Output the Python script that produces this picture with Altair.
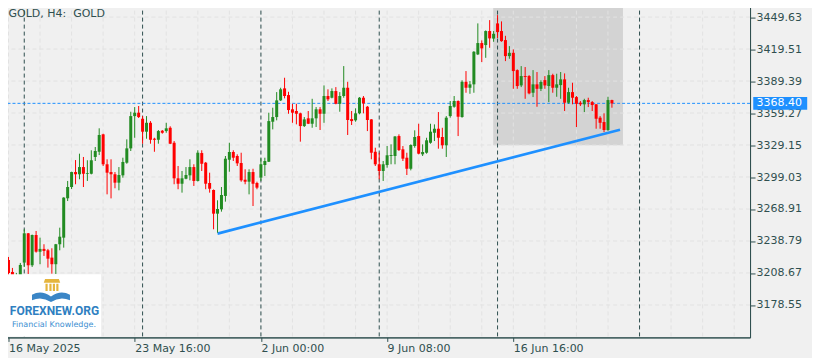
import altair as alt
import pandas as pd

# ---------------- data ----------------
opens = [3220.9, 3209.6, 3196.4, 3204.9, 3218.4, 3246.0, 3215.9, 3244.4, 3228.7, 3231.3,
         3230.0, 3223.1, 3216.9, 3235.7, 3241.9, 3279.0, 3289.6, 3303.7, 3301.6, 3308.4,
         3302.1, 3302.1, 3317.9, 3322.8, 3339.2, 3311.0, 3303.7, 3301.6, 3293.7, 3300.6,
         3312.5, 3326.0, 3356.4, 3359.6, 3353.9, 3341.7, 3350.1, 3335.1, 3334.1, 3342.6,
         3342.3, 3345.4, 3331.3, 3297.8, 3292.7, 3297.4, 3300.6, 3308.4, 3295.3, 3321.6,
         3312.5, 3293.4, 3286.8, 3264.5, 3268.6, 3281.2, 3315.3, 3322.6, 3318.8, 3312.2,
         3296.5, 3294.6, 3303.7, 3293.4, 3298.4, 3310.3, 3313.4, 3351.1, 3355.5, 3371.2,
         3382.5, 3376.2, 3362.8, 3361.2, 3359.0, 3347.0, 3354.3, 3349.2, 3354.3, 3362.8,
         3358.6, 3375.3, 3373.7, 3380.0, 3368.0, 3375.3, 3383.1, 3353.6, 3352.4, 3359.0,
         3373.7, 3365.2, 3353.3, 3322.8, 3311.0, 3304.7, 3310.3, 3318.8, 3318.8, 3337.6,
         3325.1, 3317.2, 3306.8, 3328.2, 3337.6, 3320.4, 3321.9, 3331.3, 3340.7, 3344.5,
         3336.7, 3328.9, 3356.4, 3365.2, 3370.6, 3355.5, 3388.7, 3383.1, 3386.3, 3414.5,
         3425.2, 3423.3, 3436.5, 3429.4, 3443.7, 3436.5, 3428.0, 3412.9, 3416.0, 3399.7,
         3385.3, 3394.1, 3394.1, 3378.4, 3386.3, 3382.1, 3390.3, 3384.7, 3395.0, 3383.1,
         3385.6, 3391.0, 3369.0, 3379.0, 3374.3, 3369.0, 3367.5, 3371.5, 3369.6, 3367.5,
         3354.9, 3350.8, 3343.3, 3371.5]
highs = [3223.7, 3213.4, 3208.7, 3218.1, 3249.8, 3246.3, 3244.8, 3248.2, 3241.9, 3235.7,
         3231.3, 3231.9, 3236.0, 3251.3, 3280.0, 3295.3, 3304.0, 3315.0, 3321.0, 3317.9,
         3314.8, 3324.2, 3327.3, 3344.9, 3339.8, 3315.7, 3315.7, 3303.7, 3308.4, 3317.2,
         3334.5, 3360.5, 3364.9, 3365.9, 3356.4, 3356.4, 3351.7, 3336.0, 3343.3, 3343.3,
         3350.1, 3346.8, 3332.9, 3309.4, 3304.7, 3308.4, 3315.7, 3311.0, 3324.2, 3324.2,
         3313.2, 3303.1, 3287.3, 3277.1, 3289.6, 3318.8, 3331.3, 3324.2, 3320.4, 3321.9,
         3306.3, 3306.3, 3306.8, 3294.6, 3316.6, 3317.2, 3359.6, 3364.3, 3379.0, 3383.1,
         3392.5, 3379.3, 3368.0, 3368.0, 3359.6, 3355.5, 3361.2, 3372.7, 3364.9, 3364.9,
         3385.3, 3381.6, 3382.5, 3383.7, 3379.0, 3403.5, 3388.7, 3361.2, 3363.7, 3374.3,
         3375.3, 3365.9, 3353.6, 3326.6, 3321.9, 3314.1, 3328.2, 3329.8, 3337.6, 3339.2,
         3328.2, 3321.9, 3329.8, 3343.0, 3349.2, 3329.8, 3336.0, 3349.2, 3348.6, 3360.2,
         3345.4, 3356.4, 3370.6, 3375.3, 3371.2, 3390.1, 3398.8, 3389.4, 3417.6, 3443.7,
         3427.7, 3437.1, 3446.8, 3436.5, 3451.5, 3445.6, 3432.0, 3422.3, 3419.2, 3400.4,
         3403.5, 3402.6, 3395.0, 3399.7, 3397.9, 3390.1, 3394.1, 3399.7, 3396.3, 3396.3,
         3397.9, 3396.6, 3383.1, 3387.8, 3375.3, 3370.6, 3372.7, 3373.7, 3370.6, 3367.7,
         3356.4, 3359.0, 3374.6, 3371.8]
lows = [3201.1, 3191.7, 3189.8, 3199.3, 3214.3, 3207.7, 3214.3, 3227.8, 3216.9, 3224.7,
        3213.7, 3208.0, 3207.7, 3230.0, 3232.5, 3276.4, 3287.7, 3292.2, 3296.9, 3289.6,
        3295.3, 3301.5, 3314.1, 3319.7, 3309.4, 3282.7, 3278.9, 3288.4, 3286.5, 3298.4,
        3311.5, 3323.5, 3336.0, 3354.6, 3330.4, 3335.1, 3330.4, 3322.8, 3330.4, 3339.8,
        3340.7, 3330.0, 3292.2, 3287.5, 3284.3, 3296.9, 3295.9, 3290.6, 3294.8, 3304.7,
        3287.5, 3284.3, 3249.8, 3246.6, 3266.4, 3275.8, 3304.0, 3314.1, 3309.4, 3294.6,
        3292.2, 3282.7, 3271.7, 3287.5, 3295.3, 3300.0, 3313.2, 3343.9, 3352.4, 3370.6,
        3373.1, 3358.6, 3350.1, 3348.6, 3332.3, 3346.1, 3348.9, 3345.4, 3346.1, 3343.3,
        3350.1, 3370.6, 3373.1, 3367.5, 3360.5, 3373.7, 3338.6, 3348.0, 3351.1, 3358.1,
        3359.0, 3342.3, 3315.7, 3309.4, 3296.9, 3295.3, 3307.8, 3311.0, 3311.0, 3323.5,
        3314.1, 3300.9, 3305.3, 3326.6, 3320.4, 3318.8, 3321.0, 3330.4, 3332.9, 3325.7,
        3325.7, 3317.9, 3354.9, 3364.3, 3337.6, 3354.9, 3378.4, 3377.4, 3378.4, 3413.9,
        3407.3, 3411.3, 3420.7, 3426.4, 3429.9, 3426.4, 3408.2, 3410.4, 3382.1, 3382.1,
        3383.7, 3372.7, 3376.9, 3374.3, 3365.2, 3380.0, 3382.1, 3369.6, 3378.4, 3374.6,
        3372.7, 3361.2, 3368.0, 3367.5, 3346.1, 3365.9, 3360.2, 3364.9, 3361.2, 3344.5,
        3344.5, 3341.4, 3342.3, 3364.3]
closes = [3208.7, 3199.3, 3204.9, 3216.2, 3246.0, 3215.9, 3244.4, 3228.7, 3231.3, 3229.4,
          3222.1, 3216.9, 3235.7, 3242.8, 3279.6, 3289.6, 3303.7, 3301.6, 3308.4, 3302.1,
          3302.8, 3314.8, 3323.5, 3338.6, 3311.0, 3303.1, 3301.6, 3293.7, 3300.9, 3313.2,
          3326.0, 3356.4, 3359.6, 3355.5, 3341.7, 3350.1, 3334.1, 3334.1, 3342.3, 3340.7,
          3344.9, 3330.4, 3297.8, 3292.7, 3297.8, 3300.9, 3308.4, 3295.3, 3321.9, 3311.5,
          3292.7, 3288.0, 3264.5, 3268.9, 3282.1, 3316.3, 3322.6, 3317.2, 3311.9, 3295.9,
          3294.6, 3303.7, 3292.7, 3289.0, 3311.0, 3314.1, 3351.7, 3355.5, 3371.2, 3381.6,
          3375.3, 3362.1, 3359.6, 3358.6, 3347.0, 3353.3, 3349.2, 3354.3, 3362.8, 3358.6,
          3375.3, 3372.2, 3380.0, 3368.0, 3375.3, 3383.1, 3352.7, 3351.7, 3359.0, 3373.7,
          3368.4, 3352.7, 3321.9, 3311.0, 3304.7, 3311.0, 3319.5, 3319.7, 3337.2, 3324.4,
          3316.3, 3306.8, 3329.2, 3336.7, 3321.0, 3322.6, 3333.6, 3341.7, 3344.5, 3336.0,
          3328.9, 3354.9, 3365.9, 3370.6, 3355.8, 3388.7, 3383.1, 3386.3, 3417.0, 3425.2,
          3420.2, 3436.5, 3429.6, 3433.9, 3435.5, 3427.0, 3412.9, 3416.0, 3398.8, 3384.7,
          3394.1, 3393.2, 3377.8, 3386.3, 3382.1, 3388.5, 3385.3, 3395.0, 3383.1, 3386.3,
          3391.0, 3369.0, 3379.0, 3373.7, 3368.0, 3367.5, 3371.5, 3369.6, 3366.8, 3353.9,
          3350.1, 3343.3, 3371.5, 3368.4]

price_ticks = [3449.63, 3419.51, 3389.39, 3359.27, 3329.15,
               3299.03, 3268.91, 3238.79, 3208.67, 3178.55]
time_tick_idx = [0, 32, 64, 96, 128]
time_tick_labels = ["16 May 2025", "23 May 16:00", "2 Jun 00:00", "9 Jun 08:00", "16 Jun 16:00"]
week_sep_idx = [4, 34, 64, 94, 124, 160]
current_price = [3368.40]
trend_idx = [53.0, 155.05]
trend_price = [3245.7, 3343.6]
box_idx = [122.9, 155.8]
box_price = [3328.9, 3458.4]
chart_title = "GOLD, H4:\u00a0 GOLD"
logo_name = "FOREXNEW.ORG"
logo_tag = "Financial Knowledge."

# ---------------- layout / style ----------------
W, H = 748, 334
N_SLOTS = 187
DARK = "#2f4f4f"
GRID = "#e2e2e2"
BLUE = "#1e90ff"
FONT = "DejaVu Sans"

xscale = alt.Scale(domain=[-0.25, 186.75], nice=False, zero=False)
yscale = alt.Scale(domain=[3147.96, 3462.34], nice=False, zero=False)

label_expr = ""
for k, (ix, lab) in enumerate(zip(time_tick_idx, time_tick_labels)):
    shown = ("\u2002" + lab) if k == 0 else lab
    label_expr += f"datum.value == {ix} ? '{shown}' : "
label_expr += "''"

xaxis = alt.Axis(values=time_tick_idx, labelExpr=label_expr, title=None, grid=False,
                 tickSize=4, tickColor=DARK, domainColor=DARK, labelColor=DARK,
                 labelFont=FONT, labelFontSize=11, labelAlign="left", labelBaseline="top",
                 labelPadding=1.5, labelFlush=False, labelOverlap=False)
yaxis = alt.Axis(orient="right", values=price_ticks, format=".2f", title=None, grid=False,
                 tickSize=5, tickColor=DARK, domainColor=DARK, labelColor=DARK,
                 labelFont=FONT, labelFontSize=11, labelPadding=1,
                 labelFlush=False, labelOverlap=False)


def X(f):
    return alt.X(f, type="quantitative", scale=xscale, axis=xaxis)


def Y(f):
    return alt.Y(f, type="quantitative", scale=yscale, axis=yaxis)


candles = pd.DataFrame({"i": list(range(len(opens))), "open": opens, "high": highs,
                        "low": lows, "close": closes})
candles["dir"] = ["up" if c >= o else "down" for o, c in zip(opens, closes)]
color = alt.Color("dir:N", scale=alt.Scale(domain=["up", "down"], range=["#228b22", "#ff0000"]),
                  legend=None)

box = alt.Chart(pd.DataFrame({"x0": [box_idx[0]], "x1": [box_idx[1]],
                              "y0": [box_price[0]], "y1": [box_price[1]]})).mark_rect(
    color="#d3d3d3").encode(x=X("x0"), x2="x1", y=Y("y0"), y2="y1")

hgrid = alt.Chart(pd.DataFrame({"p": price_ticks})).mark_rule(
    color=GRID, strokeDash=[4, 3], strokeWidth=1).encode(y=Y("p"))
vgrid = alt.Chart(pd.DataFrame({"g": list(range(0, N_SLOTS, 8))})).mark_rule(
    color=GRID, strokeDash=[4, 3], strokeWidth=1).encode(x=X("g"))

seps = alt.Chart(pd.DataFrame({"s": week_sep_idx})).mark_rule(
    color=DARK, strokeDash=[4, 3], strokeWidth=1).encode(x=X("s"))

pline = alt.Chart(pd.DataFrame({"p": current_price})).mark_rule(
    color=BLUE, strokeDash=[3, 2], strokeWidth=1).encode(y=Y("p"))

trend = alt.Chart(pd.DataFrame({"i": trend_idx, "p": trend_price})).mark_line(
    color=BLUE, strokeWidth=2.6).encode(x=X("i"), y=Y("p"))

wicks = alt.Chart(candles).mark_rule(strokeWidth=1).encode(
    x=X("i"), y=Y("low"), y2="high", color=color)
bodies = alt.Chart(candles).mark_bar(size=3).encode(
    x=X("i"), y=Y("open"), y2="close", color=color)

title = alt.Chart(pd.DataFrame({"t": [chart_title]})).mark_text(
    align="left", baseline="alphabetic", font=FONT, fontSize=11, color=DARK).encode(
    x=alt.value(6), y=alt.value(13.8), text="t:N")

one = pd.DataFrame({"a": [0]})
logo_bg = alt.Chart(one).mark_rect(color="white").encode(
    x=alt.value(1.8), x2=alt.value(98.5), y=alt.value(270.8), y2=alt.value(333))
temple_path = ("M-0.95,-0.3L-0.8,-0.75H0.8L0.95,-0.3Z "
               "M-0.75,-0.2H-0.5V0.65H-0.75Z M-0.3,-0.2H-0.05V0.65H-0.3Z "
               "M0.1,-0.2H0.35V0.65H0.1Z M0.5,-0.2H0.75V0.65H0.5Z")
book_path = ("M-1,-0.12 Q-0.5,-0.4 0,-0.02 Q0.5,-0.4 1,-0.12 L1,0.18 "
             "Q0.5,-0.06 0,0.27 Q-0.5,-0.06 -1,0.18 Z")
temple = alt.Chart(one).mark_point(shape=temple_path, filled=True, opacity=1,
                                   size=300, color="#e5b53d", strokeWidth=0).encode(
    x=alt.value(49.5), y=alt.value(282))
book = alt.Chart(one).mark_point(shape=book_path, filled=True, opacity=1,
                                 size=1444, color="#3b86c6", strokeWidth=0).encode(
    x=alt.value(48.5), y=alt.value(293.5))
logo_t1 = alt.Chart(pd.DataFrame({"t": [logo_name]})).mark_text(
    align="center", baseline="alphabetic", font="Roboto", fontWeight="bold",
    fontSize=12, color="#2f7fc1").encode(x=alt.value(52), y=alt.value(312), text="t:N")
logo_t2 = alt.Chart(pd.DataFrame({"t": [logo_tag]})).mark_text(
    align="center", baseline="alphabetic", font=FONT, fontSize=8, color="#3d8fd1").encode(
    x=alt.value(51.5), y=alt.value(323.2), text="t:N")

plab_df = pd.DataFrame({"p": current_price, "t": [f"{current_price[0]:.2f}"]})
plab_box = alt.Chart(plab_df).mark_point(shape="M-1,-0.24H1V0.24H-1Z", filled=True, opacity=1,
                                         size=2916, color=BLUE, strokeWidth=0).encode(
    x=alt.value(W + 30.2), y=Y("p"))
plab_txt = alt.Chart(plab_df).mark_text(align="left", baseline="middle", font=FONT,
                                        fontSize=11, color="white").encode(
    x=alt.value(W + 6.5), y=Y("p"), text="t:N")

chart = alt.layer(box, hgrid, vgrid, seps, pline, trend, wicks, bodies, title,
                  logo_bg, temple, book, logo_t1, logo_t2, plab_box, plab_txt).properties(
    width=W, height=H,
    padding={"left": -6.5, "top": -5.5, "right": 4, "bottom": 3},
    background="#f0f0f0",
).configure_view(stroke=DARK, strokeWidth=1, fill="#f0f0f0")

chart.save("out.html", embed_options={"renderer": "svg", "actions": False})
